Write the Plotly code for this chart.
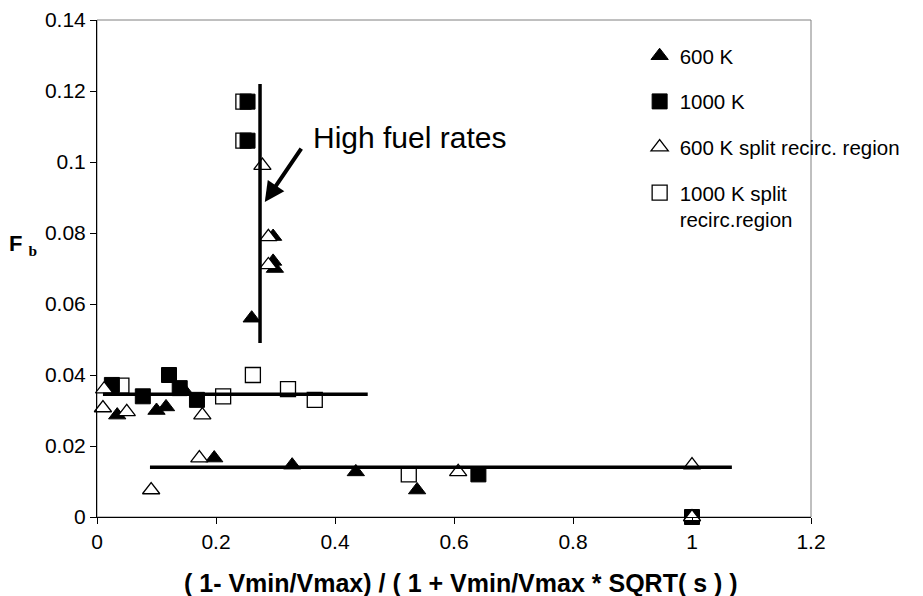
import plotly.graph_objects as go

# ---- data ----
t600_x = [0.260, 0.296, 0.296, 0.299, 0.034, 0.100, 0.116, 0.145, 0.197, 0.328, 0.435, 0.538]
t600_y = [0.056, 0.079, 0.072, 0.070, 0.0287, 0.030, 0.031, 0.036, 0.0166, 0.0146, 0.0127, 0.0076]

s1000_x = [0.253, 0.253, 0.025, 0.077, 0.121, 0.139, 0.168, 0.641, 1.0]
s1000_y = [0.117, 0.106, 0.0372, 0.034, 0.040, 0.0363, 0.033, 0.012, 0.0]

t600s_x = [0.278, 0.288, 0.288, 0.012, 0.010, 0.050, 0.177, 0.091, 0.172, 0.607, 1.0, 1.0]
t600s_y = [0.099, 0.0789, 0.071, 0.036, 0.0307, 0.0296, 0.0287, 0.0076, 0.0166, 0.0127, 0.0146, 0.0]

s1000s_x = [0.246, 0.246, 0.041, 0.212, 0.262, 0.321, 0.366, 0.524]
s1000s_y = [0.117, 0.106, 0.037, 0.034, 0.040, 0.036, 0.033, 0.012]

# trend lines
vline_x = [0.274, 0.274]
vline_y = [0.049, 0.122]
mline_x = [0.010, 0.455]
mline_y = [0.0346, 0.0346]
lline_x = [0.089, 1.067]
lline_y = [0.014, 0.014]

x_ticks = [0, 0.2, 0.4, 0.6, 0.8, 1.0, 1.2]
x_ticklabels = ["0", "0.2", "0.4", "0.6", "0.8", "1", "1.2"]
y_ticks = [0, 0.02, 0.04, 0.06, 0.08, 0.10, 0.12, 0.14]
y_ticklabels = ["0", "0.02", "0.04", "0.06", "0.08", "0.1", "0.12", "0.14"]

FONT = "Liberation Sans, Arial, sans-serif"

fig = go.Figure()

fig.add_trace(go.Scatter(
    x=t600_x, y=t600_y, mode="markers", name="600 K", legendgroup="a",
    marker=dict(symbol="triangle-up", size=15, color="black",
                line=dict(color="black", width=1)),
    cliponaxis=False))
fig.add_trace(go.Scatter(
    x=s1000_x, y=s1000_y, mode="markers", name="1000 K", legendgroup="b",
    marker=dict(symbol="square", size=15, color="black",
                line=dict(color="black", width=1)),
    cliponaxis=False))
fig.add_trace(go.Scatter(
    x=t600s_x, y=t600s_y, mode="markers", name="600 K split recirc. region", legendgroup="c",
    marker=dict(symbol="triangle-up", size=15, color="white",
                line=dict(color="black", width=1.3)),
    cliponaxis=False))
fig.add_trace(go.Scatter(
    x=s1000s_x, y=s1000s_y, mode="markers", name="1000 K split<br>recirc.region", legendgroup="d",
    marker=dict(symbol="square", size=15, color="rgba(255,255,255,0)",
                line=dict(color="black", width=1.3)),
    cliponaxis=False))

for lx, ly in [(vline_x, vline_y), (mline_x, mline_y), (lline_x, lline_y)]:
    fig.add_trace(go.Scatter(x=lx, y=ly, mode="lines", showlegend=False,
                             line=dict(color="black", width=3.5), hoverinfo="skip"))

# plot area border (top/right gray)
fig.add_shape(type="rect", xref="paper", yref="paper", x0=0, x1=1, y0=0, y1=1,
              line=dict(color="#808080", width=1), layer="below")

fig.add_annotation(x=0.282, y=0.0887, ax=0.345, ay=0.1042, xref="x", yref="y",
                   axref="x", ayref="y", text="", showarrow=True,
                   arrowhead=2, arrowsize=1, arrowwidth=4, arrowcolor="black")
fig.add_annotation(x=0.359, y=0.1068, xref="x", yref="y", text="High fuel rates",
                   showarrow=False, xanchor="left", yanchor="middle",
                   font=dict(family=FONT, size=30, color="black"))
fig.add_annotation(x=-0.104, y=0.547, xref="paper", yref="paper",
                   text="<b>F</b> <sub><span style='font-family:Liberation Serif, Times New Roman, serif'><b>b</b></span></sub>",
                   showarrow=False, xanchor="center", yanchor="middle",
                   font=dict(family=FONT, size=22, color="black"))
fig.add_annotation(x=0.51, y=-0.133, xref="paper", yref="paper",
                   text="<b>( 1- Vmin/Vmax) / ( 1 + Vmin/Vmax * SQRT( s ) )</b>",
                   showarrow=False, xanchor="center", yanchor="middle",
                   font=dict(family=FONT, size=25, color="black"))

fig.update_layout(
    width=923, height=596,
    margin=dict(l=97, r=112, t=20, b=79),
    paper_bgcolor="white", plot_bgcolor="white",
    font=dict(family=FONT, size=21, color="black"),
    showlegend=True,
    legend=dict(x=0.76, y=0.968, xanchor="left", yanchor="top",
                bgcolor="rgba(0,0,0,0)", tracegroupgap=16, valign="top",
                font=dict(family=FONT, size=20.5, color="black")),
    xaxis=dict(range=[0, 1.2], tickvals=x_ticks, ticktext=x_ticklabels,
               showgrid=False, zeroline=False, showline=True, linecolor="black",
               linewidth=1, ticks="outside", ticklen=6, tickcolor="black",
               tickfont=dict(family=FONT, size=21), automargin=False),
    yaxis=dict(range=[0, 0.14], tickvals=y_ticks, ticktext=y_ticklabels,
               showgrid=False, zeroline=False, showline=True, linecolor="black",
               linewidth=1, ticks="outside", ticklen=6, tickcolor="black",
               tickfont=dict(family=FONT, size=21), automargin=False),
)

fig.write_html("out.html")
